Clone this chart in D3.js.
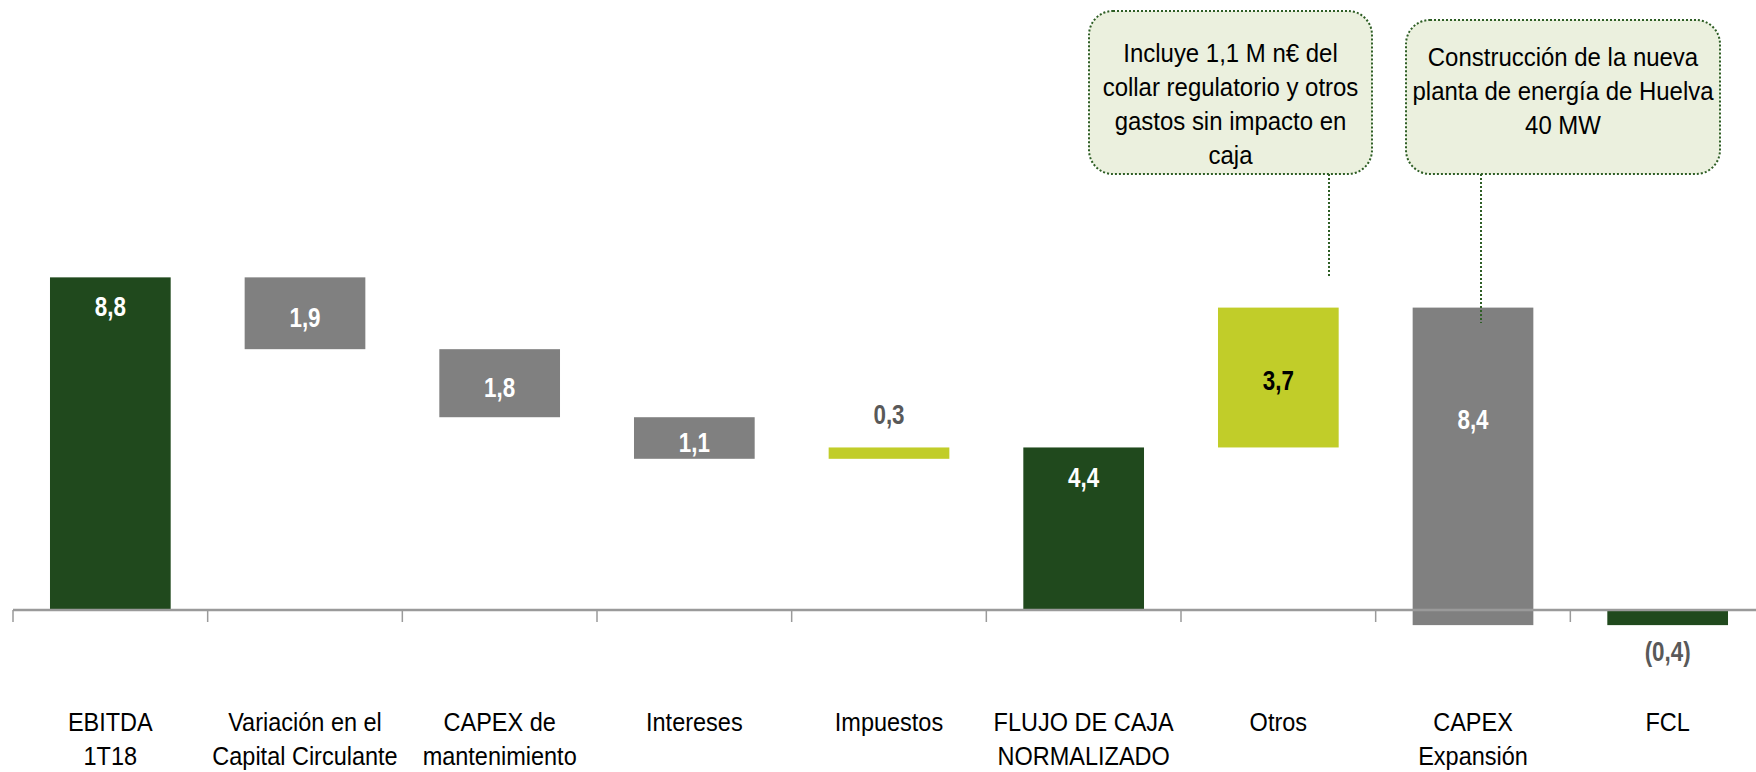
<!DOCTYPE html>
<html lang="es">
<head>
<meta charset="UTF-8">
<title>Flujo de caja</title>
<style>
  body { margin: 0; background: #fff; }
  svg text { font-family: "Liberation Sans", Arial, sans-serif; }
</style>
</head>
<body>
<script src="https://cdn.jsdelivr.net/npm/d3@7/dist/d3.min.js"></script>
<script>
  const categories = [
    ['EBITDA', '1T18'],
    ['Variación en el', 'Capital Circulante'],
    ['CAPEX de', 'mantenimiento'],
    ['Intereses'],
    ['Impuestos'],
    ['FLUJO DE CAJA', 'NORMALIZADO'],
    ['Otros'],
    ['CAPEX', 'Expansión'],
    ['FCL']
  ];
  // where each bar starts and ends (M€), as drawn in the waterfall
  const barStart = [0, 8.8, 6.9, 5.1, 4.0, 0, 4.3, 8.0, 0];
  const barEnd = [8.8, 6.9, 5.1, 4.0, 4.3, 4.3, 8.0, -0.4, -0.4];
  const kinds = ['total', 'neg', 'neg', 'neg', 'pos', 'total', 'pos', 'neg', 'total'];
  const valueLabels = ['8,8', '1,9', '1,8', '1,1', '0,3', '4,4', '3,7', '8,4', '(0,4)'];

  const notes = [
    ['Incluye 1,1 M n€ del', 'collar regulatorio y otros', 'gastos sin impacto en', 'caja'],
    ['Construcción de la nueva', 'planta de energía de Huelva', '40 MW']
  ];

  const w = 1756;
  const h = 772;
  const narrow = 0.94;   // squeeze Liberation Sans towards the narrow face

  const colors = { total: '#20491d', neg: '#808080', pos: '#c1cd29' };

  const bars = barStart.map((s, i) => ({ i, y0: s, y1: barEnd[i], kind: kinds[i], label: valueLabels[i] }));

  const x = d3.scaleBand()
    .domain(d3.range(categories.length))
    .range([13, 1765])
    .paddingInner(0.38)
    .paddingOuter(0.19);

  const y = d3.scaleLinear()
    .domain([0, 10])
    .range([610, 232]);

  const svg = d3.select('body')
    .append('svg')
    .attr('width', w)
    .attr('height', h);

  // bars
  svg.selectAll('rect.bar')
    .data(bars)
    .enter()
    .append('rect')
    .attr('class', 'bar')
    .attr('x', d => x(d.i))
    .attr('width', x.bandwidth())
    .attr('y', d => y(Math.max(d.y0, d.y1)))
    .attr('height', d => Math.abs(y(d.y0) - y(d.y1)))
    .attr('fill', d => colors[d.kind]);

  // axis line + ticks at band edges
  const step = x.step();
  const edge0 = x(0) - step * x.paddingOuter();
  svg.append('line')
    .attr('x1', edge0).attr('x2', w)
    .attr('y1', y(0)).attr('y2', y(0))
    .attr('stroke', '#9a9a9a').attr('stroke-width', 2.5);
  svg.selectAll('line.tick')
    .data(d3.range(categories.length))
    .enter()
    .append('line')
    .attr('class', 'tick')
    .attr('x1', i => edge0 + i * step)
    .attr('x2', i => edge0 + i * step)
    .attr('y1', y(0))
    .attr('y2', y(0) + 12)
    .attr('stroke', '#9a9a9a').attr('stroke-width', 1.5);

  // value labels
  function labelPos(d) {
    const top = y(Math.max(d.y0, d.y1));
    const bot = y(Math.min(d.y0, d.y1));
    const cx = x(d.i) + x.bandwidth() / 2;
    if (d.i === 4) return { cx, cy: top - 34, fill: '#595959' };
    if (d.i === 8) return { cx, cy: bot + 26, fill: '#595959' };
    if (d.kind === 'total') return { cx, cy: top + 29, fill: '#fff' };
    if (d.i === 7) return { cx, cy: top + (bot - top) * 0.35, fill: '#fff' };
    if (d.kind === 'pos') return { cx, cy: (top + bot) / 2 + 2, fill: '#000' };
    return { cx, cy: (top + bot) / 2 + 4, fill: '#fff' };
  }

  svg.selectAll('text.val')
    .data(bars)
    .enter()
    .append('text')
    .attr('class', 'val')
    .text(d => d.label)
    .attr('transform', d => `translate(${labelPos(d).cx},${labelPos(d).cy}) scale(0.8,1)`)
    .attr('dy', '0.36em')
    .attr('text-anchor', 'middle')
    .attr('font-size', 28)
    .attr('font-weight', 'bold')
    .attr('fill', d => labelPos(d).fill);

  // category labels
  const cat = svg.selectAll('text.cat')
    .data(categories)
    .enter()
    .append('text')
    .attr('class', 'cat')
    .attr('text-anchor', 'middle')
    .attr('font-size', 25)
    .attr('fill', '#000')
    .attr('transform', (d, i) => `translate(${x(i) + x.bandwidth() / 2},731) scale(${narrow},1)`);
  cat.selectAll('tspan')
    .data(d => d)
    .enter()
    .append('tspan')
    .attr('x', 0)
    .attr('y', (d, k) => k * 34.5)
    .text(d => d);

  // callouts
  const boxes = [
    { x0: 1089, y0: 11, x1: 1372, y1: 174, lx: 1329, ly: 278, base: 62 },
    { x0: 1406, y0: 20, x1: 1720, y1: 174, lx: 1481, ly: 323, base: 66 }
  ];
  notes.forEach((lines, k) => {
    const b = boxes[k];
    svg.append('line')
      .attr('x1', b.lx).attr('x2', b.lx)
      .attr('y1', b.y1).attr('y2', b.ly)
      .attr('stroke', '#2e5e25').attr('stroke-width', 2)
      .attr('stroke-dasharray', '2,2');
    svg.append('rect')
      .attr('x', b.x0).attr('y', b.y0)
      .attr('width', b.x1 - b.x0).attr('height', b.y1 - b.y0)
      .attr('rx', 24).attr('ry', 24)
      .attr('fill', '#ebf0de')
      .attr('stroke', '#2e5e25').attr('stroke-width', 2)
      .attr('stroke-dasharray', '2,2');
    svg.append('text')
      .attr('text-anchor', 'middle')
      .attr('font-size', 25.5)
      .attr('fill', '#000')
      .attr('transform', `translate(${(b.x0 + b.x1) / 2},${b.base}) scale(${narrow},1)`)
      .selectAll('tspan')
      .data(lines)
      .enter()
      .append('tspan')
      .attr('x', 0)
      .attr('y', (d, j) => j * 34)
      .text(d => d);
  });
</script>
</body>
</html>
